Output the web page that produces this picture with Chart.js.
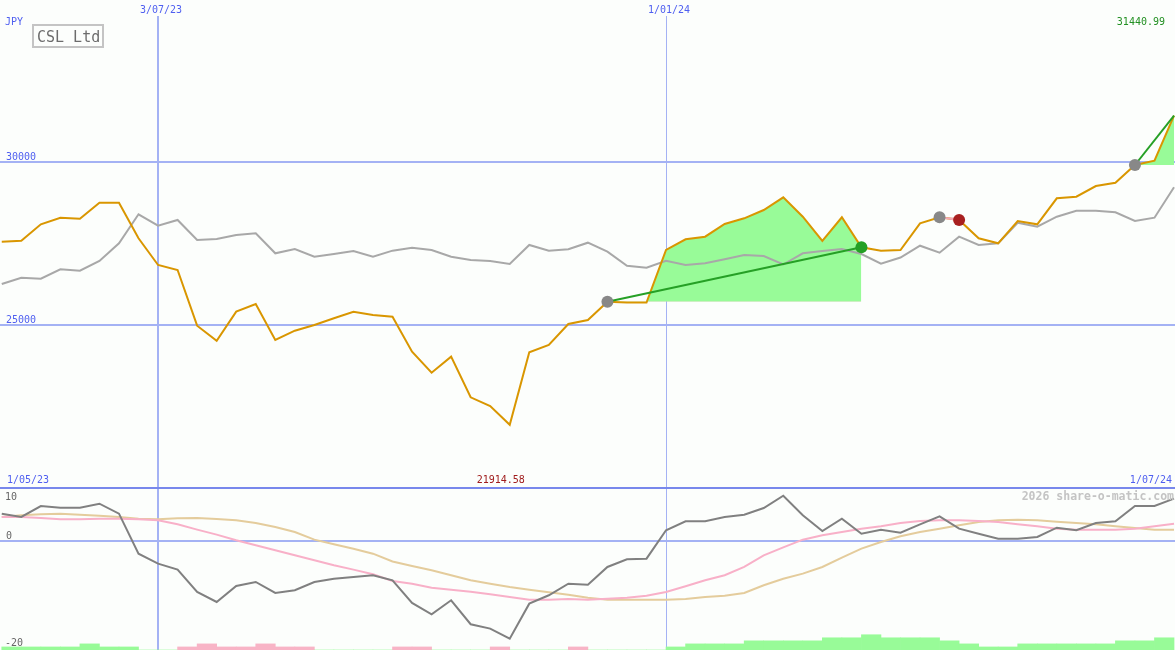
<!DOCTYPE html>
<html>
<head>
<meta charset="utf-8">
<script src="https://cdn.jsdelivr.net/npm/chart.js@4.4.1/dist/chart.umd.min.js"></script>
<style>
  html, body { margin: 0; padding: 0; background: #fcfefc; }
  #wrap { position: relative; width: 1175px; height: 650px; overflow: hidden; background: #fcfefc; }
  canvas { position: absolute; left: 0; }
  #main { top: 0; }
  #osc { top: 487px; }
</style>
</head>
<body>
<div id="wrap">
  <canvas id="main" width="1175" height="487"></canvas>
  <canvas id="osc" width="1175" height="163"></canvas>
</div>
<script>
// weekly points, index 0 = 8 May 2023 ... index 60 = 1 Jul 2024
const currency = 'JPY';
const stockName = 'CSL Ltd';
const dateTickIdx = [8, 34];
const dateTickLabels = ['3/07/23', '1/01/24'];
const rangeLabels = ['1/05/23', '1/07/24'];
const priceTicks = [30000, 25000];
const oscTicks = [10, 0, -20];
const watermark = '2026 share-o-matic.com';

const price = [
  27556, 27586, 28091, 28295, 28264, 28757, 28757, 27660, 26838, 26684,
  24968, 24506, 25400, 25637, 24528, 24814, 24990, 25196, 25400, 25298,
  25246, 24168, 23521, 24014, 22763, 22495, 21914.58, 24149, 24374, 25021,
  25144, 25708, 25680, 25680, 27300, 27630, 27710, 28101, 28276, 28532,
  28923, 28326, 27577, 28307, 27383, 27278, 27300, 28122, 28307, 28224,
  27660, 27506, 28193, 28091, 28892, 28942, 29271, 29373, 29918, 30050,
  31440.99
];

const relative = [
  26253, 26447, 26416, 26706, 26662, 26961, 27506, 28400, 28049, 28224,
  27608, 27639, 27762, 27814, 27198, 27331, 27094, 27177, 27269, 27094,
  27280, 27371, 27300, 27094, 26992, 26961, 26869, 27454, 27278, 27322,
  27525, 27248, 26816, 26755, 26970, 26838, 26890, 27013, 27146, 27115,
  26853, 27198, 27269, 27331, 27177, 26878, 27069, 27432, 27217, 27710,
  27454, 27506, 28141, 28018, 28326, 28510, 28510, 28461, 28193, 28295,
  29231
];

const macd = [
  5.09, 4.48, 6.50, 6.20, 6.20, 6.93, 5.09, -2.27, -4.11, -5.21,
  -9.32, -11.16, -8.22, -7.48, -9.50, -9.01, -7.48, -6.87, -6.56, -6.25,
  -7.17, -11.34, -13.42, -10.85, -15.26, -16.07, -17.91, -11.47, -9.93, -7.79,
  -7.97, -4.72, -3.31, -3.19, 2.03, 3.69, 3.69, 4.48, 4.90, 6.13,
  8.40, 4.79, 1.90, 4.17, 1.41, 2.15, 1.59, 3.13, 4.61, 2.33,
  1.41, 0.49, 0.49, 0.80, 2.51, 2.03, 3.38, 3.69, 6.50, 6.50,
  7.85
];

const signal = [
  4.48, 4.48, 4.30, 4.06, 4.06, 4.17, 4.17, 4.06, 3.87, 3.13,
  2.15, 1.23, 0.19, -0.73, -1.65, -2.57, -3.49, -4.41, -5.21, -6.06,
  -7.30, -7.79, -8.53, -8.90, -9.26, -9.75, -10.24, -10.74, -10.74, -10.61,
  -10.74, -10.55, -10.37, -10.00, -9.32, -8.27, -7.17, -6.25, -4.72, -2.57,
  -1.10, 0.31, 1.11, 1.72, 2.33, 2.76, 3.38, 3.74, 3.87, 3.87,
  3.74, 3.56, 3.13, 2.76, 2.33, 2.15, 2.15, 2.15, 2.33, 2.76,
  3.25
];

const slow = [
  4.48, 4.79, 4.97, 5.09, 4.91, 4.72, 4.48, 4.17, 4.06, 4.24,
  4.30, 4.11, 3.87, 3.38, 2.64, 1.72, 0.31, -0.55, -1.35, -2.27,
  -3.70, -4.54, -5.33, -6.25, -7.17, -7.79, -8.40, -8.90, -9.38, -9.82,
  -10.37, -10.74, -10.74, -10.74, -10.74, -10.61, -10.24, -10.00, -9.50, -8.09,
  -6.90, -5.95, -4.72, -3.00, -1.35, -0.12, 0.93, 1.72, 2.33, 2.95,
  3.56, 3.87, 3.99, 3.87, 3.62, 3.38, 3.13, 2.76, 2.45, 2.15,
  2.15
];

// one bar per week interval, + green, - pink
const histLevel = [
  1, 1, 1, 1, 2, 1, 1, 0, 0, -1,
  -2, -1, -1, -2, -1, -1, 0, 0, 0, 0,
  -1, -1, 0, 0, 0, -1, 0, 0, 0, -1,
  0, 0, 0, 0, 1, 2, 2, 2, 3, 3,
  3, 3, 4, 4, 5, 4, 4, 4, 3, 2,
  1, 1, 2, 2, 2, 2, 2, 3, 3, 4
];

const tradeEntry = [31, 48, 58];
const tradeExit = [44, 49, 60];

const FONT = '"DejaVu Sans Mono", monospace';
const BLUE_TXT = '#4f5ff0';
const GRID = '#a4b2f4';
const GREEN_FILL = '#98fb98';
const PINK_FILL = '#f8b4c6';

const pts = (arr, from = 0) => arr.map((v, i) => ({ x: from + i, y: v }));
const last = price.length - 1;

const xScale = { type: 'linear', min: -0.09, max: 60.05, offset: false, display: false };

const trades = tradeEntry.map((a, k) => ({ a, b: tradeExit[k], open: tradeExit[k] === last }));

const fillSets = trades.map(t => ({
  data: pts(price.slice(t.a, t.b + 1), t.a),
  borderWidth: 0,
  pointRadius: 0,
  fill: { target: { value: price[t.a] }, above: GREEN_FILL, below: PINK_FILL },
  order: 5
}));

const tradeLines = trades.map(t => ({
  data: [{ x: t.a, y: price[t.a] }, { x: t.b, y: price[t.b] }],
  borderColor: price[t.b] >= price[t.a] ? '#26a026' : '#f4a8b8',
  borderWidth: 2,
  pointRadius: 0,
  order: 1
}));

const closed = trades.filter(t => !t.open);

const mainDecor = {
  id: 'mainDecor',
  beforeDatasetsDraw(chart) {
    const { ctx, chartArea: a, scales: { x, y } } = chart;
    ctx.save();
    ctx.strokeStyle = GRID;
    priceTicks.forEach(v => {
      const py = Math.round(y.getPixelForValue(v));
      ctx.lineWidth = 2;
      ctx.beginPath(); ctx.moveTo(a.left, py); ctx.lineTo(a.right, py); ctx.stroke();
    });
    dateTickIdx.forEach((d, k) => {
      const w = k === 0 ? 2 : 1;
      const px = w === 2 ? Math.round(x.getPixelForValue(d)) : Math.floor(x.getPixelForValue(d)) + 0.5;
      ctx.lineWidth = w;
      ctx.beginPath(); ctx.moveTo(px, 16); ctx.lineTo(px, a.bottom); ctx.stroke();
    });
    ctx.restore();
  },
  afterDraw(chart) {
    const { ctx, scales: { x, y } } = chart;
    ctx.save();
    ctx.font = '10px ' + FONT;
    ctx.fillStyle = BLUE_TXT;
    ctx.textBaseline = 'alphabetic';
    ctx.textAlign = 'left';
    ctx.fillText(currency, 5, 25);
    priceTicks.forEach(v => ctx.fillText(String(v), 6, Math.round(y.getPixelForValue(v)) - 2));
    ctx.textAlign = 'center';
    dateTickIdx.forEach((d, k) => ctx.fillText(dateTickLabels[k], x.getPixelForValue(d) + 3, 13));
    ctx.textAlign = 'left';
    ctx.fillText(rangeLabels[0], 7, 483);
    ctx.textAlign = 'right';
    ctx.fillText(rangeLabels[1], 1172, 483);
    ctx.fillStyle = '#229022';
    ctx.fillText(price[last].toFixed(2), 1165, 25);
    const lo = Math.min(...price);
    ctx.textAlign = 'center';
    ctx.fillStyle = '#a01c1c';
    ctx.fillText(lo.toFixed(2), x.getPixelForValue(price.indexOf(lo)) - 9, 483);
    // name box
    ctx.strokeStyle = '#c4c4c4';
    ctx.lineWidth = 2;
    ctx.strokeRect(33, 25, 70, 22);
    ctx.font = '15px ' + FONT;
    ctx.fillStyle = '#6c6c6c';
    ctx.textAlign = 'left';
    ctx.fillText(stockName, 37, 42);
    ctx.restore();
  }
};

new Chart(document.getElementById('main'), {
  type: 'line',
  data: {
    datasets: [
      ...fillSets,
      { data: pts(relative), borderColor: '#a8a8a8', borderWidth: 2, pointRadius: 0, order: 3 },
      { data: pts(price), borderColor: '#d99600', borderWidth: 2, pointRadius: 0, order: 2 },
      ...tradeLines,
      {
        data: trades.map(t => ({ x: t.a, y: price[t.a] })),
        showLine: false, pointRadius: 6, pointBorderWidth: 0,
        pointBackgroundColor: '#888888', order: 0
      },
      {
        data: closed.map(t => ({ x: t.b, y: price[t.b] })),
        showLine: false, pointRadius: 6, pointBorderWidth: 0,
        pointBackgroundColor: closed.map(t => price[t.b] >= price[t.a] ? '#24a024' : '#a82020'),
        order: 0
      }
    ]
  },
  options: {
    responsive: false,
    animation: false,
    layout: { padding: 0, autoPadding: false },
    plugins: { legend: { display: false }, tooltip: { enabled: false } },
    scales: {
      x: xScale,
      y: { min: 20000, max: 35000, display: false }
    }
  },
  plugins: [mainDecor]
});

const oscDecor = {
  id: 'oscDecor',
  beforeDatasetsDraw(chart) {
    const { ctx, chartArea: a, scales: { x, y } } = chart;
    ctx.save();
    ctx.strokeStyle = GRID;
    ctx.lineWidth = 2;
    const zy = Math.round(y.getPixelForValue(0));
    ctx.beginPath(); ctx.moveTo(a.left, zy); ctx.lineTo(a.right, zy); ctx.stroke();
    dateTickIdx.forEach((d, k) => {
      const w = k === 0 ? 2 : 1;
      const px = w === 2 ? Math.round(x.getPixelForValue(d)) : Math.floor(x.getPixelForValue(d)) + 0.5;
      ctx.lineWidth = w;
      ctx.beginPath(); ctx.moveTo(px, a.top); ctx.lineTo(px, a.bottom); ctx.stroke();
    });
    ctx.fillStyle = '#7888ec';
    ctx.fillRect(0, 0, 1175, 2);
    ctx.restore();
  },
  afterDraw(chart) {
    const { ctx } = chart;
    ctx.save();
    ctx.font = '10px ' + FONT;
    ctx.fillStyle = '#666666';
    ctx.textAlign = 'left';
    ctx.fillText(String(oscTicks[0]), 5, 13);
    ctx.fillText(String(oscTicks[1]), 6, 52);
    ctx.fillText(String(oscTicks[2]), 5, 159);
    ctx.font = 'bold 11.5px ' + FONT;
    ctx.fillStyle = '#c4c4c4';
    ctx.textAlign = 'right';
    ctx.fillText(watermark, 1174, 13);
    ctx.restore();
  }
};

new Chart(document.getElementById('osc'), {
  type: 'line',
  data: {
    datasets: [
      {
        type: 'bar',
        yAxisID: 'yb',
        data: histLevel.map((v, i) => ({ x: i + 0.5, y: Math.abs(v) })),
        backgroundColor: histLevel.map(v => v >= 0 ? GREEN_FILL : PINK_FILL),
        borderWidth: 0,
        barPercentage: 1,
        categoryPercentage: 1,
        order: 4
      },
      { data: pts(slow), borderColor: '#e4cc9c', borderWidth: 2, pointRadius: 0, order: 3 },
      { data: pts(signal), borderColor: '#f8b0c8', borderWidth: 2, pointRadius: 0, order: 2 },
      { data: pts(macd), borderColor: '#808080', borderWidth: 2, pointRadius: 0, order: 1 }
    ]
  },
  options: {
    responsive: false,
    animation: false,
    layout: { padding: 0, autoPadding: false },
    plugins: { legend: { display: false }, tooltip: { enabled: false } },
    scales: {
      x: xScale,
      y: { min: -20, max: 10, display: false },
      yb: { min: 0, max: 53.4, display: false }
    }
  },
  plugins: [oscDecor]
});
</script>
</body>
</html>
